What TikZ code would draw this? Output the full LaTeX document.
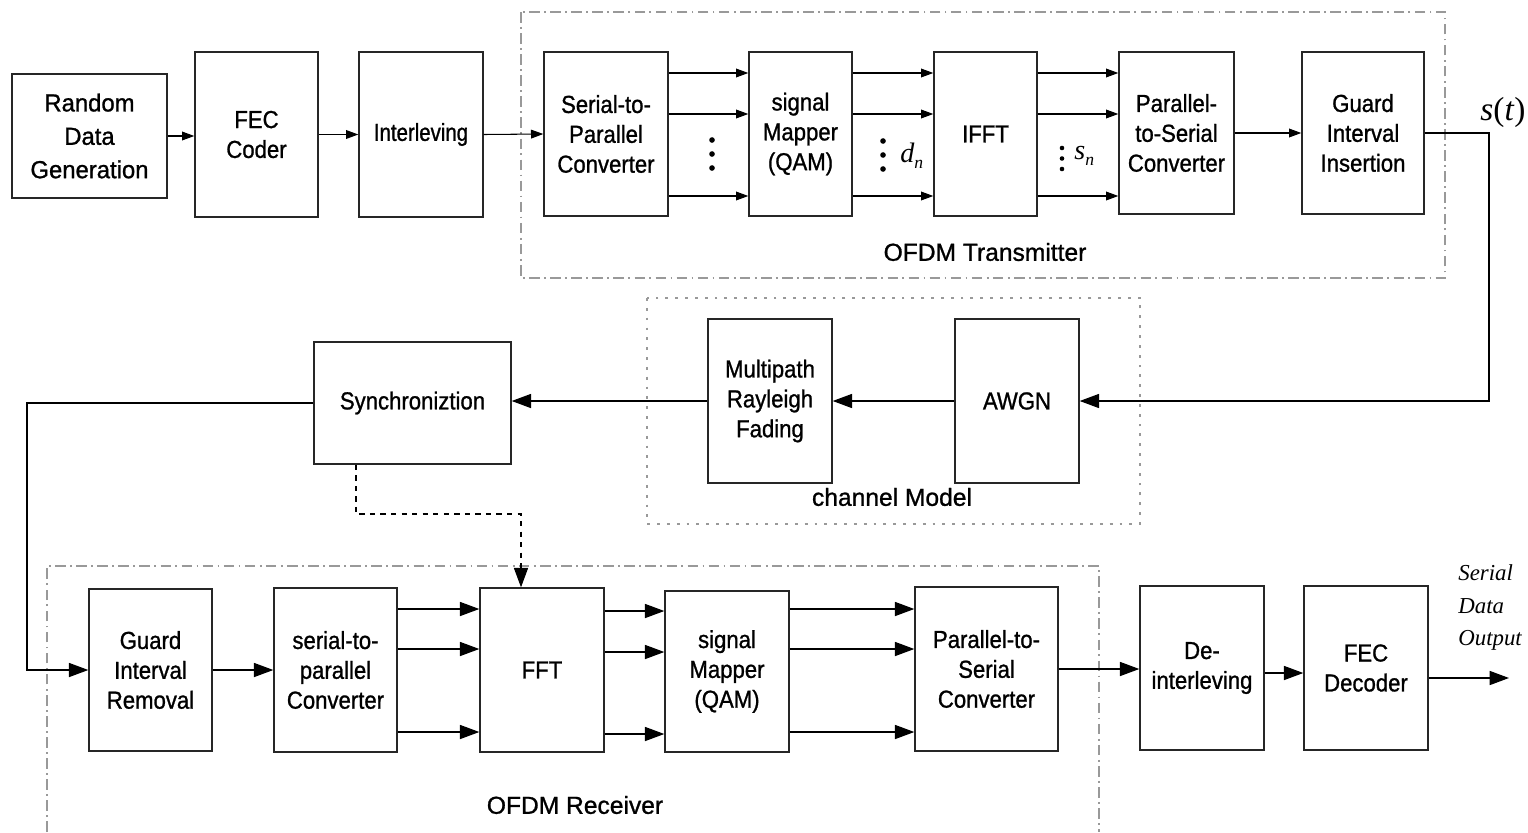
\documentclass[tikz,border=0pt]{standalone}
\usepackage{fontspec}
\setmainfont{Liberation Sans}[FakeBold=1.0,FakeStretch=0.9]
\newfontfamily\tms{Liberation Serif}
\usetikzlibrary{arrows.meta}
\tikzset{
 blk/.style={draw=black!85, line width=0.8pt, align=center, inner sep=0pt, font=\fontsize{14}{17}\selectfont},
 arrt/.style={line width=0.6pt, -{Triangle[length=7pt,width=5pt]}},
 arrb/.style={line width=0.7pt, -{Triangle[length=11pt,width=8pt]}},
 grp/.style={draw=black!40, line width=0.7pt, dash pattern=on 6pt off 2.5pt on 1pt off 2.5pt},
 chg/.style={draw=black!40, line width=0.7pt, dash pattern=on 1.6pt off 4pt},
 lbl/.style={font=\fontsize{14}{17}\selectfont\addfontfeature{FakeStretch=1.0}, inner sep=0pt},
 ital/.style={font=\tms\itshape\fontsize{13}{16}\selectfont, inner sep=0pt, anchor=west}
}
\newcommand\mkbox[6]{\node[blk,minimum width={(#4-#2)*0.02cm},minimum height={(#5-#3)*0.02cm}] (#1) at ({(#2+#4)/2},{(#3+#5)/2}) {#6};}
\newcommand\wideword[1]{{\addfontfeature{FakeStretch=0.97}#1}}
\begin{document}
\begin{tikzpicture}[x=0.02cm,y=-0.02cm]
\useasboundingbox[fill=white] (0,0) rectangle (1528,832);
% group frames
\draw[grp] (521,12) rectangle (1445,278);
\draw[chg] (647,298) rectangle (1140,524);
\draw[grp] (47,832) -- (47,566) -- (1099,566) -- (1099,832);
\node[lbl] (ltx) at (985,252) {OFDM Transmitter};
\node[lbl] (lch) at (892,497) {channel Model};
\node[lbl] (lrx) at (575,805) {OFDM Receiver};
% top row
\mkbox{rdg}{12}{74}{167}{198}{\wideword{Random}\\[2pt]\wideword{Data}\\[2pt]\wideword{Generation}}
\mkbox{fec}{195}{52}{318}{217}{FEC\\Coder}
\mkbox{intl}{359}{52}{483}{217}{\addfontfeature{FakeStretch=0.83}Interleving}
\mkbox{sp}{544}{52}{668}{216}{Serial-to-\\Parallel\\Converter}
\mkbox{map}{749}{52}{852}{216}{signal\\Mapper\\(QAM)}
\mkbox{ifft}{934}{52}{1037}{216}{IFFT}
\mkbox{ps}{1119}{52}{1234}{214}{Parallel-\\to-Serial\\Converter}
\mkbox{gii}{1302}{52}{1424}{214}{Guard\\Interval\\Insertion}
% channel
\mkbox{mrf}{708}{319}{832}{483}{Multipath\\Rayleigh\\Fading}
\mkbox{awgn}{955}{319}{1079}{483}{AWGN}
\mkbox{sync}{314}{342}{511}{464}{Synchroniztion}
% receiver
\mkbox{gir}{89}{589}{212}{751}{Guard\\Interval\\Removal}
\mkbox{rsp}{274}{588}{397}{752}{serial-to-\\parallel\\Converter}
\mkbox{fft}{480}{588}{604}{752}{FFT}
\mkbox{rmap}{665}{591}{789}{752}{signal\\Mapper\\(QAM)}
\mkbox{rps}{915}{587}{1058}{751}{Parallel-to-\\Serial\\Converter}
\mkbox{deint}{1140}{586}{1264}{750}{De-\\interleving}
\mkbox{fecd}{1304}{586}{1428}{750}{FEC\\Decoder}
% labels
\node[inner sep=0pt, font=\tms\fontsize{19}{22}\selectfont] (st) at (1503,112) {\textit{s}(\textit{t})};
\node[inner sep=0pt, anchor=west, font=\tms\itshape\fontsize{16}{18}\selectfont] (dn) at (900,156) {d\raisebox{-0.45ex}{\fontsize{10}{12}\selectfont n}};
\node[inner sep=0pt, anchor=west, font=\tms\itshape\fontsize{16}{18}\selectfont] (sn) at (1074,156) {s\raisebox{-0.45ex}{\fontsize{10}{12}\selectfont n}};
\node[ital] (o1) at (1458,573) {Serial};
\node[ital] (o2) at (1458,606) {Data};
\node[ital] (o3) at (1458,640) {Output};
% dots
\foreach \yy in {140,154,168} \fill (712,\yy) circle (1.6pt);
\foreach \yy in {141,155,169} \fill (883,\yy) circle (1.6pt);
\foreach \yy in {148,158.5,169} \fill (1062,\yy) circle (1.3pt);
% top connectors
\draw[arrt] (rdg.east) -- (rdg.east -| fec.west);
\draw[arrt] (fec.east) -- (intl.west);
\draw[arrt] (intl.east) -- (sp.west);
\foreach \yy in {73,114,196} {
  \draw[arrt] (sp.east |- 0,\yy) -- (map.west |- 0,\yy);
  \draw[arrt] (map.east |- 0,\yy) -- (ifft.west |- 0,\yy);
  \draw[arrt] (ifft.east |- 0,\yy) -- (ps.west |- 0,\yy);
}
\draw[arrt] (ps.east) -- (gii.west);
% to channel
\coordinate (c1) at (1489,401);
\draw[arrb] (gii.east) -| (c1) -- (awgn.east);
\draw[arrb] (awgn.west) -- (mrf.east);
\draw[arrb] (mrf.west) -- (mrf.west -| sync.east);
\coordinate (c2) at (27,670);
\draw[arrb] (sync.west) -| (c2) -- (gir.west);
\coordinate (c3) at (356,514);
\coordinate (c4) at (521,514);
\draw[arrb, dashed, line width=0.6pt] (sync.south -| c3) -- (c3) -- (c4) -- (fft.north -| c4);
% receiver connectors
\draw[arrb] (gir.east) -- (gir.east -| rsp.west);
\foreach \yy in {609,649,732} {
  \draw[arrb] (rsp.east |- 0,\yy) -- (fft.west |- 0,\yy);
  \draw[arrb] (rmap.east |- 0,\yy) -- (rps.west |- 0,\yy);
}
\foreach \yy in {611,652,734} \draw[arrb] (fft.east |- 0,\yy) -- (rmap.west |- 0,\yy);
\draw[arrb] (rps.east) -- (rps.east -| deint.west);
\draw[arrb] (deint.east |- 0,673) -- (fecd.west |- 0,673);
\coordinate (out) at (1509,678);
\draw[arrb] (fecd.east |- out) -- (out);
\end{tikzpicture}
\end{document}
